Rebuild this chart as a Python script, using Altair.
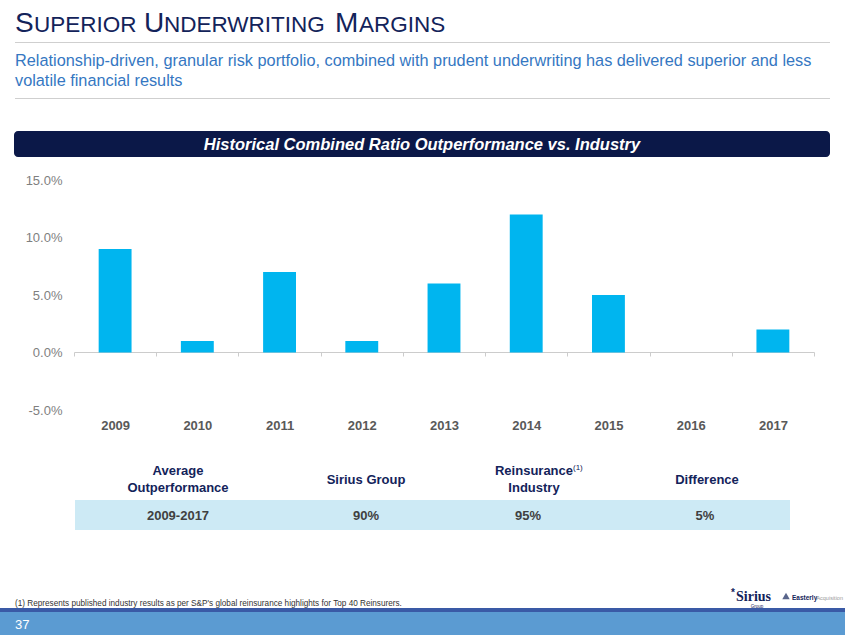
import altair as alt
import pandas as pd

# ---- data ----
years = ["2009", "2010", "2011", "2012", "2013", "2014", "2015", "2016", "2017"]
outperformance = [0.09, 0.01, 0.07, 0.01, 0.06, 0.12, 0.05, 0.00, 0.02]
y_ticks = [-0.05, 0.0, 0.05, 0.10, 0.15]

table_headers = ["Average\nOutperformance", "Sirius Group", "Reinsurance\nIndustry", "Difference"]
table_values = ["2009-2017", "90%", "95%", "5%"]

FONT = "Liberation Sans"
NAVY = "#13235a"
OX, OY = 74, 180          # plot origin on the page
W, H = 740, 230           # plot area

df = pd.DataFrame({"year": years, "value": outperformance})

bars = alt.Chart(df).mark_bar(color="#00b5ef", width=alt.RelativeBandSize(0.4)).encode(
    x=alt.X("year:N", sort=years, title=None,
            scale=alt.Scale(paddingInner=0, paddingOuter=0),
            axis=alt.Axis(orient="bottom", offset=-58, domainColor="#cccccc", domainWidth=1,
                          tickBand="extent", tickColor="#cccccc", tickSize=4,
                          labelPadding=63, labelFontSize=13, labelFontWeight="bold",
                          labelColor="#595959", labelFont=FONT, labelAngle=0, grid=False)),
    y=alt.Y("value:Q", title=None,
            scale=alt.Scale(domain=[-0.05, 0.15], nice=False, zero=False),
            axis=alt.Axis(values=y_ticks, labelExpr="replace(format(datum.value, '.1%'), '\u2212', '-')",
                          domain=False, ticks=False, grid=False,
                          labelPadding=12, labelFontSize=13, labelColor="#7f7f7f", labelFont=FONT)),
)

one = alt.Data(values=[{}])


def txt(s, x, y, size=13, color=NAVY, weight="normal", align="left", baseline="alphabetic",
        style="normal", font=FONT):
    return alt.Chart(one).mark_text(align=align, baseline=baseline, fontSize=size, font=font,
                                    fontWeight=weight, color=color, fontStyle=style).encode(
        x=alt.value(x - OX), y=alt.value(y - OY), text=alt.value(s))


def rect(x1, y1, x2, y2, color, radius=0):
    return alt.Chart(one).mark_rect(color=color, cornerRadius=radius).encode(
        x=alt.value(x1 - OX), x2=alt.value(x2 - OX), y=alt.value(y1 - OY), y2=alt.value(y2 - OY))


layers = []
# title in small caps
BIG, SMALL = 28, 22.5
for s, x, sz in [("S", 15, BIG), ("UPERIOR", 34, SMALL), ("U", 144, BIG), ("NDERWRITING", 164, SMALL),
                 ("M", 335, BIG), ("ARGINS", 359, SMALL)]:
    layers.append(txt(s, x, 32, size=sz, color=NAVY))
layers.append(rect(15, 42, 830, 43, "#cfcfcf"))
layers.append(txt("Relationship-driven, granular risk portfolio, combined with prudent underwriting has delivered superior and less",
                  15, 66, size=16.3, color="#3577c2"))
layers.append(txt("volatile financial results", 15, 86, size=16.3, color="#3577c2"))
layers.append(rect(15, 98, 830, 99, "#cfcfcf"))

# banner
layers.append(rect(14, 131, 830, 157, "#0b1848", radius=4))
layers.append(txt("Historical Combined Ratio Outperformance vs. Industry", 422, 150, size=16.5,
                  color="white", weight="bold", align="center", style="italic"))

# table
hx = [178, 366, 534, 707]
layers.append(txt("Average", hx[0], 475, weight="bold", align="center"))
layers.append(txt("Outperformance", hx[0], 492, weight="bold", align="center"))
layers.append(txt("Sirius Group", hx[1], 484, weight="bold", align="center"))
layers.append(txt("Reinsurance", hx[2], 475, weight="bold", align="center"))
layers.append(txt("(1)", 573, 470, size=8, align="left"))
layers.append(txt("Industry", hx[2], 492, weight="bold", align="center"))
layers.append(txt("Difference", hx[3], 484, weight="bold", align="center"))
layers.append(rect(75, 500, 790, 530, "#cdeaf5"))
for v, x in zip(table_values, [178, 366, 528, 705]):
    layers.append(txt(v, x, 520, weight="bold", align="center", color="#404040"))

# footnote
layers.append(txt("(1) Represents published industry results as per S\u0026P's global reinsurance highlights for Top 40 Reinsurers.",
                  15, 606, size=8.2, color="#333333"))

# logos
layers.append(txt("*", 731, 596, size=10, color=NAVY, weight="bold"))
layers.append(txt("Sirius", 736, 601, size=14, color=NAVY, font="Liberation Serif", weight="bold"))
layers.append(txt("Group", 757, 608, size=4.5, color=NAVY, align="center"))
layers.append(alt.Chart(one).mark_point(shape="triangle-up", filled=True, color=NAVY, size=55).encode(
    x=alt.value(786 - OX), y=alt.value(596 - OY)))
layers.append(txt("Easterly", 792, 600, size=6.5, color=NAVY, weight="bold"))
layers.append(txt("Acquisition", 843, 600, size=5.5, color="#9a9a9a", align="right"))

# bottom bar
layers.append(rect(0, 608, 845, 612, "#3a5aa6"))
layers.append(rect(0, 612, 845, 635, "#5b9bd2"))
layers.append(txt("37", 15, 629, size=13, color="white"))

chart = alt.layer(bars, *layers).properties(
    width=W, height=H,
    padding={"left": OX, "top": OY, "right": 845 - OX - W, "bottom": 635 - OY - H},
    autosize=alt.AutoSizeParams(type="none"),
    background="white",
).configure_view(stroke=None)

chart.save("out.html", embed_options={"renderer": "svg", "actions": False})
